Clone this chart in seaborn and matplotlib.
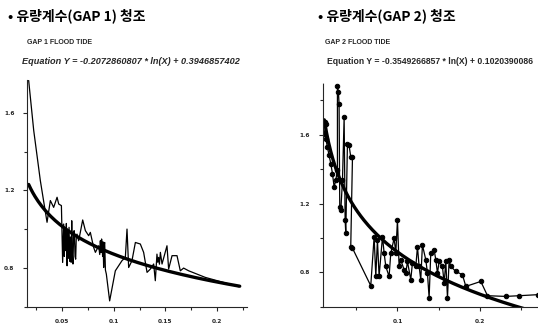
import numpy as np
import pandas as pd
import matplotlib
matplotlib.use("Agg")
import matplotlib.pyplot as plt
import seaborn as sns
from matplotlib.ticker import MultipleLocator, FixedLocator

sns.set_style("ticks")
plt.rcParams['font.family'] = ['Noto Sans CJK KR', 'DejaVu Sans']

# ---- GAP 1 flood tide ----
gap1_x = [0.0177, 0.0226, 0.029, 0.0355, 0.0387, 0.0419, 0.0452, 0.0468, 0.0494, 0.0506,
          0.0516, 0.0522, 0.0529, 0.0536, 0.0542, 0.0549, 0.0555, 0.0562, 0.0568, 0.0575,
          0.0581, 0.0588, 0.0594, 0.0600, 0.0606, 0.0613, 0.0619, 0.0626, 0.0632, 0.0638,
          0.0645, 0.0661, 0.0677, 0.070, 0.0726, 0.0758, 0.0774, 0.0806, 0.0823, 0.0855,
          0.0865, 0.0871, 0.0877, 0.0883, 0.0887, 0.0893, 0.0897, 0.0903, 0.0908, 0.0913,
          0.0920, 0.0929, 0.0961, 0.1016, 0.108, 0.1113, 0.1129,
          0.1145, 0.1177, 0.121, 0.1258, 0.129, 0.1323, 0.1355, 0.1387, 0.1403, 0.1419,
          0.1427, 0.1435, 0.1443, 0.1452, 0.1468, 0.1516, 0.1532, 0.1565, 0.1613, 0.1645,
          0.1677, 0.1726, 0.1887, 0.2097, 0.221]
gap1_y = [1.767, 1.509, 1.251, 1.036, 1.148, 1.113, 1.165, 1.130, 1.122, 0.829,
          1.027, 0.860, 1.000, 0.890, 1.030, 0.812, 0.993, 0.850, 1.010, 0.835,
          0.960, 0.830, 1.044, 0.870, 0.821, 0.990, 0.993, 0.860, 0.846, 0.960,
          0.975, 0.941, 0.984, 1.048, 0.993, 0.967, 0.984, 0.907, 0.881, 0.915,
          0.870, 0.941, 0.880, 0.950, 0.924, 0.860, 0.935, 0.803, 0.920, 0.932,
          0.790, 0.769, 0.631, 0.786, 0.838, 0.855, 1.001,
          0.803, 0.838, 0.932, 0.924, 0.881, 0.778, 0.795, 0.821, 0.735, 0.872,
          0.830, 0.855, 0.820, 0.881, 0.821, 0.915, 0.795, 0.864, 0.864, 0.786,
          0.800, 0.786, 0.752, 0.721, 0.704]
gap1_a, gap1_b = -0.2072860807, 0.3946857402

# ---- GAP 2 flood tide ----
gap2_x = [0.0125, 0.0141, 0.0113, 0.0133, 0.0153, 0.0173, 0.0194, 0.0214, 0.0234, 0.0254,
          0.0274, 0.0274, 0.0286, 0.0294, 0.0302, 0.0315, 0.0335, 0.0355, 0.0367, 0.0375,
          0.0395, 0.0415, 0.0435, 0.0456, 0.0435, 0.0456, 0.0677, 0.0718, 0.0738, 0.0758,
          0.0778, 0.0819, 0.0839, 0.0859, 0.0899, 0.0919, 0.096, 0.098, 0.100, 0.102,
          0.104, 0.1081, 0.1101, 0.1121, 0.1161, 0.1181, 0.1222, 0.1242, 0.1262, 0.1282,
          0.1302, 0.1343, 0.1363, 0.1383, 0.1403, 0.1444, 0.1464, 0.1484, 0.1504, 0.1544,
          0.1565, 0.1585, 0.1605, 0.1625, 0.1645, 0.1706, 0.1786, 0.1827, 0.2008, 0.2089,
          0.2310, 0.2472, 0.2694]
gap2_y = [1.673, 1.664, 1.606, 1.577, 1.529, 1.480, 1.432, 1.374, 1.297, 1.336,
          1.394, 1.885, 1.847, 1.779, 1.182, 1.162, 1.336, 1.702, 1.105, 1.027,
          1.548, 1.538, 1.471, 1.471, 0.950, 0.941, 0.723, 1.008, 0.777, 0.989,
          0.777, 1.008, 0.912, 0.835, 0.777, 0.912, 0.999, 0.912, 1.105, 0.835,
          0.873, 0.815, 0.796, 0.864, 0.758, 0.854, 0.835, 0.950, 0.835, 0.758,
          0.960, 0.873, 0.796, 0.652, 0.912, 0.931, 0.873, 0.796, 0.864, 0.835,
          0.738, 0.864, 0.652, 0.873, 0.835, 0.806, 0.787, 0.719, 0.748, 0.665,
          0.661, 0.665, 0.671]
gap2_a, gap2_b = -0.3549266857, 0.1020390086

fig = plt.figure(figsize=(5.38, 3.30), dpi=100)
ax1 = fig.add_axes([0.050, 0.070, 0.409, 0.688])
ax2 = fig.add_axes([0.600, 0.070, 0.400, 0.678])

tick_font = dict(family='DejaVu Sans', size=4.2, weight='bold')


def draw_panel(ax, xs, ys, a, b, x0, x1, markers):
    df = pd.DataFrame({'x': xs, 'y': ys})
    if markers:
        sns.lineplot(data=df, x='x', y='y', ax=ax, sort=False, estimator=None,
                     color='black', lw=0.9, marker='o', markersize=3.2,
                     markeredgecolor='black')
    else:
        sns.lineplot(data=df, x='x', y='y', ax=ax, sort=False, estimator=None,
                     color='black', lw=0.9)
    fx = np.linspace(x0, x1, 200)
    fit = pd.DataFrame({'x': fx, 'y': a * np.log(fx) + b})
    sns.lineplot(data=fit, x='x', y='y', ax=ax, color='black', lw=2.4, sort=False)
    ax.set_xlabel('')
    ax.set_ylabel('')
    sns.despine(ax=ax)
    ax.tick_params(axis='both', which='major', length=3, width=0.8, pad=6)
    ax.tick_params(axis='both', which='minor', length=2, width=0.8)


# left panel
draw_panel(ax1, gap1_x, gap1_y, gap1_a, gap1_b, 0.0177, 0.222, markers=False)
ax1.set_xlim(0.016, 0.229)
ax1.set_ylim(0.6, 1.77)
ax1.xaxis.set_major_locator(FixedLocator([0.05, 0.1, 0.15, 0.2]))
ax1.xaxis.set_minor_locator(MultipleLocator(0.025))
ax1.yaxis.set_major_locator(FixedLocator([0.8, 1.2, 1.6]))
ax1.yaxis.set_minor_locator(MultipleLocator(0.2))
ax1.set_xticklabels(['0.05', '0.1', '0.15', '0.2'], **tick_font)
ax1.set_yticklabels(['0.8', '1.2', '1.6'], **tick_font)

# right panel
draw_panel(ax2, gap2_x, gap2_y, gap2_a, gap2_b, 0.0115, 0.27, markers=True)
ax2.set_xlim(0.0097, 0.27)
ax2.set_ylim(0.6, 1.9)
ax2.xaxis.set_major_locator(FixedLocator([0.1, 0.2]))
ax2.xaxis.set_minor_locator(MultipleLocator(0.05))
ax2.yaxis.set_major_locator(FixedLocator([0.8, 1.2, 1.6]))
ax2.yaxis.set_minor_locator(MultipleLocator(0.2))
ax2.set_xticklabels(['0.1', '0.2'], **tick_font)
ax2.set_yticklabels(['0.8', '1.2', '1.6'], **tick_font)
ax2.spines['left'].set_linestyle((0, (1, 1)))

# headings
head = ['Noto Sans CJK KR', 'DejaVu Sans']
fig.text(8 / 538, 1 - 16 / 330, '• 유량계수(GAP 1) 청조', fontsize=10, weight='heavy',
         family=head, color='black', va='center', ha='left')
fig.text(318 / 538, 1 - 16 / 330, '• 유량계수(GAP 2) 청조', fontsize=10, weight='heavy',
         family=head, color='black', va='center', ha='left')

small = ['Liberation Sans Narrow', 'Liberation Sans']
fig.text(27 / 538, 1 - 43 / 330, 'GAP 1 FLOOD TIDE', fontsize=5.0, weight='bold',
         family=small, va='center', ha='left')
fig.text(325 / 538, 1 - 43 / 330, 'GAP 2 FLOOD TIDE', fontsize=5.0, weight='bold',
         family=small, va='center', ha='left')
fig.text(22 / 538, 1 - 62 / 330, 'Equation Y = -0.2072860807 * ln(X) + 0.3946857402',
         fontsize=6.6, weight='bold', style='italic', family=small, va='center', ha='left')
fig.text(327 / 538, 1 - 62 / 330, 'Equation Y = -0.3549266857 * ln(X) + 0.1020390086',
         fontsize=6.2, weight='bold', family=small, va='center', ha='left')

fig.savefig('out.png', dpi=100, facecolor='white')
